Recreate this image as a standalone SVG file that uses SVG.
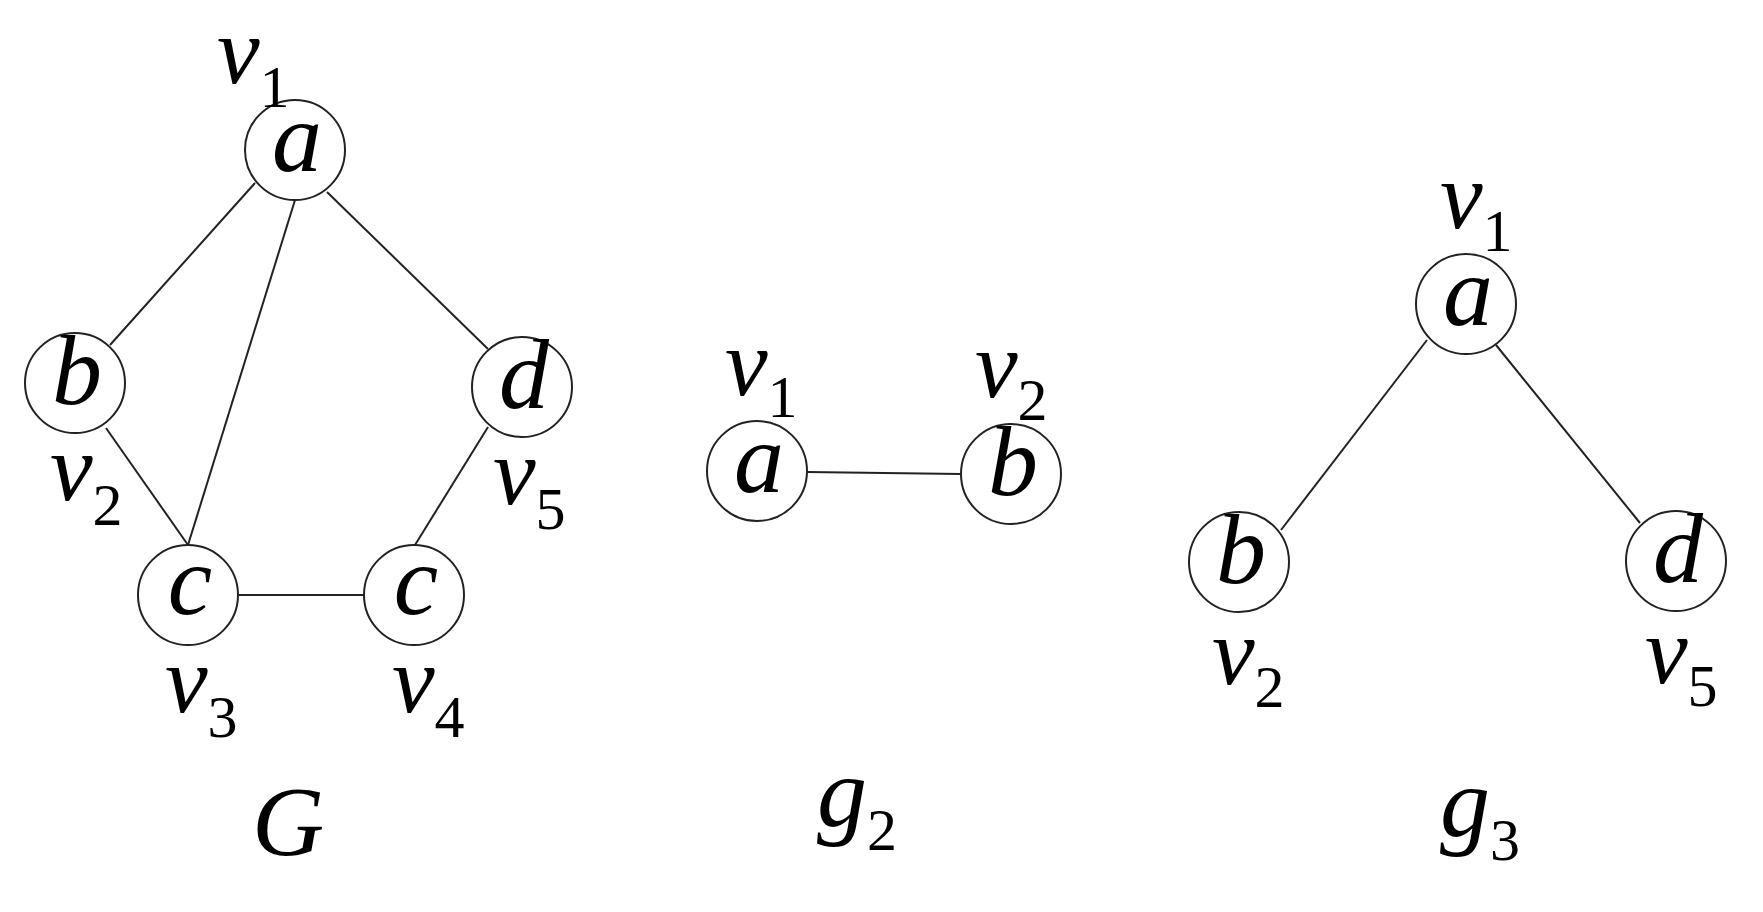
<svg xmlns="http://www.w3.org/2000/svg" width="1763" height="912" viewBox="0 0 1763 912">
<style>
.bg{fill:#fff}
.edge{stroke:#222;stroke-width:2;fill:none}
.node{fill:#fff;stroke:#222;stroke-width:2}
.nl{font-family:"Liberation Serif","Times New Roman",serif;font-style:italic;font-size:100px;fill:#000;text-anchor:middle}
.lbl{font-family:"Liberation Serif","Times New Roman",serif;font-style:italic;font-size:96px;fill:#000}
.sub{font-style:normal;font-size:60px}
.title{font-family:"Liberation Serif","Times New Roman",serif;font-style:italic;font-size:100px;fill:#000}
</style>
<rect class="bg" width="1763" height="912"/>
<g id="connectors">
<line class="edge" x1="255" y1="183" x2="110" y2="345"/>
<line class="edge" x1="295" y1="200" x2="188" y2="545"/>
<line class="edge" x1="327" y1="192" x2="488" y2="349"/>
<line class="edge" x1="106" y1="428" x2="188" y2="545"/>
<line class="edge" x1="488" y1="427" x2="415" y2="545"/>
<line class="edge" x1="238" y1="595" x2="364" y2="595"/>
<line class="edge" x1="807" y1="472" x2="961" y2="474"/>
<line class="edge" x1="1427" y1="340" x2="1281" y2="530"/>
<line class="edge" x1="1496" y1="345" x2="1640" y2="523"/>
</g>
<g id="G-a"><circle class="node" cx="295" cy="150" r="50"/><text class="nl" x="297" y="171">a</text></g>
<g id="G-b"><circle class="node" cx="75" cy="383" r="50"/><text class="nl" x="77" y="404">b</text></g>
<g id="G-d"><circle class="node" cx="522" cy="387" r="50"/><text class="nl" x="524" y="408">d</text></g>
<g id="G-c3"><circle class="node" cx="188" cy="595" r="50"/><text class="nl" x="190" y="614">c</text></g>
<g id="G-c4"><circle class="node" cx="414" cy="595" r="50"/><text class="nl" x="416" y="614">c</text></g>
<g id="g2-a"><circle class="node" cx="757" cy="471" r="50"/><text class="nl" x="759" y="492">a</text></g>
<g id="g2-b"><circle class="node" cx="1011" cy="474" r="50"/><text class="nl" x="1013" y="495">b</text></g>
<g id="g3-a"><circle class="node" cx="1466" cy="304" r="50"/><text class="nl" x="1468" y="325">a</text></g>
<g id="g3-b"><circle class="node" cx="1239" cy="562" r="50"/><text class="nl" x="1241" y="583">b</text></g>
<g id="g3-d"><circle class="node" cx="1676" cy="561" r="50"/><text class="nl" x="1678" y="582">d</text></g>
<g id="labels">
<text class="lbl" x="217" y="83">v<tspan class="sub" dy="24">1</tspan></text>
<text class="lbl" x="50" y="500">v<tspan class="sub" dy="25">2</tspan></text>
<text class="lbl" x="493" y="504">v<tspan class="sub" dy="25">5</tspan></text>
<text class="lbl" x="165" y="712">v<tspan class="sub" dy="25">3</tspan></text>
<text class="lbl" x="392" y="712">v<tspan class="sub" dy="25">4</tspan></text>
<text class="title" x="288" y="855" text-anchor="middle">G</text>
<text class="lbl" x="725" y="395">v<tspan class="sub" dy="22">1</tspan></text>
<text class="lbl" x="975" y="397">v<tspan class="sub" dy="23">2</tspan></text>
<text class="title" x="817" y="826">g<tspan class="sub" dy="24">2</tspan></text>
<text class="lbl" x="1440" y="228">v<tspan class="sub" dy="23">1</tspan></text>
<text class="lbl" x="1212" y="684">v<tspan class="sub" dy="23">2</tspan></text>
<text class="lbl" x="1645" y="683">v<tspan class="sub" dy="23">5</tspan></text>
<text class="title" x="1440" y="836">g<tspan class="sub" dy="24">3</tspan></text>
</g>
</svg>
